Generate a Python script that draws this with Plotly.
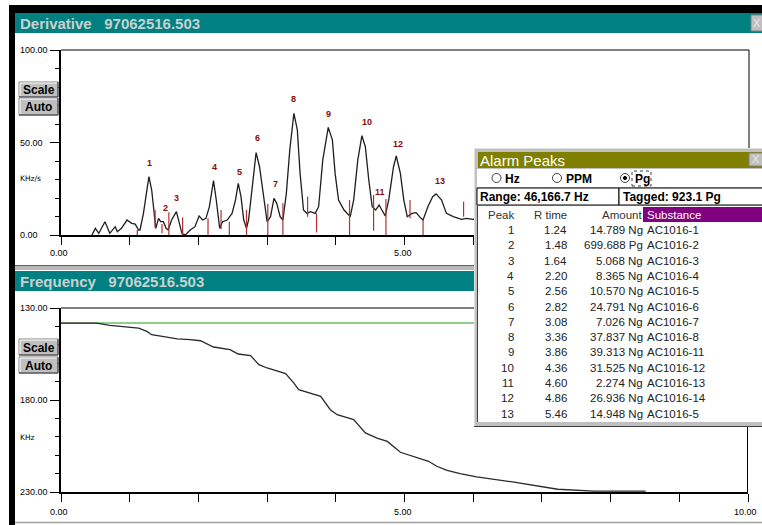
import plotly.graph_objects as go

W, H = 762, 525
FONT = "Liberation Sans, Arial, sans-serif"

# ---------------- data ----------------
deriv_x = [0.45, 0.50, 0.55, 0.64, 0.71, 0.79, 0.82, 0.88, 0.96, 1.03, 1.08, 1.13, 1.15,
           1.20, 1.25, 1.28, 1.32, 1.36, 1.38, 1.42, 1.45, 1.49, 1.53, 1.56, 1.61, 1.68,
           1.72, 1.76, 1.81, 1.88, 1.95, 2.01, 2.06, 2.11, 2.16, 2.22, 2.26, 2.31, 2.35,
           2.42, 2.49, 2.54, 2.58, 2.62, 2.66, 2.70, 2.73, 2.78, 2.84, 2.89, 2.95, 3.00,
           3.05, 3.10, 3.14, 3.19, 3.23, 3.28, 3.33, 3.39, 3.44, 3.48, 3.53, 3.58, 3.63,
           3.70, 3.75, 3.81, 3.89, 3.95, 3.99, 4.04, 4.12, 4.19, 4.21, 4.26, 4.32, 4.38,
           4.43, 4.48, 4.53, 4.58, 4.63, 4.67, 4.72, 4.77, 4.84, 4.88, 4.94, 4.99, 5.04,
           5.11, 5.17, 5.24, 5.27, 5.34, 5.41, 5.46, 5.54, 5.61, 5.71, 5.83, 5.90, 6.00,
           6.15, 6.30]
deriv_y = [0.0, 3.6, 0.9, 7.2, 0.9, 4.5, 1.8, 3.6, 8.1, 6.3, 5.9, 2.7, 2.7,
           11.7, 24.3, 31.5, 24.3, 9.9, 3.6, 9.0, 7.2, 7.2, 3.6, 2.7, 8.1, 12.6,
           7.2, 0.9, 0.0, 2.7, 4.5, 10.3, 8.1, 9.0, 15.3, 29.4, 18.9, 3.6, 7.2,
           8.1, 11.7, 18.9, 27.9, 20.7, 8.1, 3.6, 8.1, 26.1, 44.5, 36.9, 18.9, 7.2,
           9.9, 19.8, 17.1, 9.9, 8.1, 22.5, 45.9, 65.8, 56.8, 33.3, 13.5, 11.7, 12.6,
           11.7, 15.3, 40.5, 58.2, 51.4, 33.3, 18.9, 13.5, 10.8, 9.9, 18.9, 40.5, 53.7,
           47.7, 29.7, 15.3, 13.5, 16.2, 13.5, 10.3, 18.9, 36.9, 42.7, 33.3, 18.9, 9.9,
           11.7, 12.1, 9.0, 8.1, 15.3, 20.7, 22.2, 18.9, 11.7, 9.9, 8.5, 9.0, 8.5,
           8.0, 7.5]

# peak boundary markers (time, top, bottom)
bnd_x = [1.11, 1.37, 1.47, 1.57, 1.77, 2.14, 2.33, 2.45, 2.70, 3.01, 3.23, 3.59, 3.72,
         4.20, 4.55, 4.73, 5.08, 5.27, 5.86]
bnd_top = [2.7, 13.5, 6.0, 12.3, 9.5, 9.0, 13.5, 7.2, 13.5, 16.8, 17.1, 20.7, 11.7,
           18.9, 21.6, 19.5, 18.9, 8.1, 18.0]
bnd_bot = [0.0, 3.6, 0.9, 0.0, 0.0, 0.0, 3.1, 0.0, 0.0, 0.0, 0.0, 9.9, 1.4,
           0.0, 2.3, 0.0, 9.0, 0.0, 9.9]

peak_ids = ["1", "2", "3", "4", "5", "6", "7", "8", "9", "10", "11", "12", "13"]
peak_lab_x = [1.29, 1.52, 1.68, 2.24, 2.60, 2.86, 3.12, 3.39, 3.90, 4.45, 4.64, 4.90, 5.51]
peak_lab_y = [38.7, 14.4, 20.0, 36.6, 34.2, 52.3, 27.4, 73.3, 65.6, 61.1, 23.1, 49.4, 29.4]

freq_x = [0.00, 0.52, 0.71, 0.91, 1.13, 1.25, 1.32, 1.54, 1.69, 1.88, 2.03, 2.22, 2.46,
          2.58, 2.76, 2.88, 3.00, 3.27, 3.39, 3.46, 3.58, 3.78, 3.92, 4.02, 4.26, 4.43,
          4.60, 4.75, 4.94, 5.18, 5.35, 5.47, 5.62, 5.81, 6.05, 6.55, 7.23, 7.76, 8.51]
freq_y = [138.2, 138.2, 139.4, 140.0, 140.9, 142.7, 144.5, 145.8, 146.8, 147.2, 147.8,
          151.2, 152.6, 155.0, 155.9, 160.8, 162.6, 165.7, 170.8, 174.4, 175.8, 178.0,
          185.3, 188.0, 190.7, 197.9, 200.7, 202.5, 208.4, 211.5, 213.3, 216.0, 218.2,
          220.0, 221.8, 224.4, 228.5, 229.5, 229.5]
freq_ref = 138.2

deriv_ytick_vals = [100, 50, 0]
deriv_ytick_text = ["100.00", "50.00", "0.00"]
freq_ytick_vals = [130, 180, 230]
freq_ytick_text = ["130.00", "180.00", "230.00"]
x_tick_vals = [0, 5, 10]
x_tick_text = ["0.00", "5.00", "10.00"]

deriv_title = "Derivative   97062516.503"
freq_title = "Frequency   97062516.503"
deriv_unit = "KHz/s"
freq_unit = "KHz"

table_peak = ["1", "2", "3", "4", "5", "6", "7", "8", "9", "10", "11", "12", "13"]
table_rtime = ["1.24", "1.48", "1.64", "2.20", "2.56", "2.82", "3.08", "3.36", "3.86",
               "4.36", "4.60", "4.86", "5.46"]
table_amount = ["14.789 Ng", "699.688 Pg", "5.068 Ng", "8.365 Ng", "10.570 Ng",
                "24.791 Ng", "7.026 Ng", "37.837 Ng", "39.313 Ng", "31.525 Ng",
                "2.274 Ng", "26.936 Ng", "14.948 Ng"]
table_substance = ["AC1016-1", "AC1016-2", "AC1016-3", "AC1016-4", "AC1016-5",
                   "AC1016-6", "AC1016-7", "AC1016-8", "AC1016-11", "AC1016-12",
                   "AC1016-13", "AC1016-14", "AC1016-5"]
table_headers = ["Peak", "R time", "Amount", "Substance"]
units_options = ["Hz", "PPM", "Pg"]
range_text = "Range: 46,166.7 Hz"
tagged_text = "Tagged: 923.1 Pg"

# ---------------- helpers ----------------
def PX(x):
    return x / W

def PY(y):
    return 1 - y / H

shapes = []
annots = []

def rect(x0, y0, x1, y1, fill, line=None, lw=0, layer="above"):
    shapes.append(dict(type="rect", xref="paper", yref="paper",
                       x0=PX(x0), x1=PX(x1), y0=PY(y1), y1=PY(y0),
                       fillcolor=fill, layer=layer,
                       line=dict(color=line or fill, width=lw)))

def hline(x0, x1, y, color, w=1, dash="solid"):
    shapes.append(dict(type="line", xref="paper", yref="paper", x0=PX(x0), x1=PX(x1),
                       y0=PY(y), y1=PY(y), layer="above",
                       line=dict(color=color, width=w, dash=dash)))

def vline(x, y0, y1, color, w=1, dash="solid"):
    shapes.append(dict(type="line", xref="paper", yref="paper", x0=PX(x), x1=PX(x),
                       y0=PY(y0), y1=PY(y1), layer="above",
                       line=dict(color=color, width=w, dash=dash)))

def circle(cx, cy, r, fill, line):
    shapes.append(dict(type="circle", xref="paper", yref="paper",
                       x0=PX(cx - r), x1=PX(cx + r), y0=PY(cy + r), y1=PY(cy - r),
                       fillcolor=fill, layer="above", line=dict(color=line, width=1)))

def txt(s, x, y, size, color="black", bold=False, xanchor="left", xref="paper",
        yref="paper", family=FONT, xshift=0):
    if xref == "paper":
        x = PX(x)
    if yref == "paper":
        y = PY(y)
    annots.append(dict(text=f"<b>{s}</b>" if bold else s, x=x, y=y, xref=xref, yref=yref,
                       xanchor=xanchor, yanchor="middle", showarrow=False, xshift=xshift,
                       borderpad=0, font=dict(family=family, size=size, color=color)))

def button(x0, y0, x1, y1, label):
    rect(x0, y0, x1, y1, "#c0c0c0", "#808080", 1)
    hline(x0 + 1, x1 - 1, y0 + 1, "white", 1)
    vline(x0 + 1, y0 + 1, y1 - 1, "white", 1)
    hline(x0, x1, y1, "#404040", 1)
    vline(x1, y0, y1, "#404040", 1)
    txt(label, (x0 + x1) / 2, (y0 + y1) / 2 + 0.5, 12, bold=True, xanchor="center")

# ---------------- frame ----------------
rect(9, 5, 762, 13, "black", layer="below")
rect(9, 5, 15, 525, "black", layer="below")

# title bars
rect(15, 13, 762, 33, "#008080")
txt(deriv_title, 19, 23.5, 15, "#c8d0d0", bold=True)
rect(751, 15, 764, 31, "#c0c0c0", "#808080", 1)
txt("X", 757, 23, 11, "#e8e8e8", xanchor="center")

rect(15, 265, 762, 270, "#b8b8b8")
hline(15, 762, 265.5, "#606060", 1)
rect(15, 271, 762, 291, "#008080")
txt(freq_title, 19, 281.5, 15, "#c8d0d0", bold=True)
hline(15, 762, 522.5, "#a0a0a0", 1.5)

# plot borders (top/right)
hline(61, 749, 50, "black", 1)
vline(749, 50, 235, "black", 1)
hline(61, 748, 308, "black", 1)
vline(747.5, 308, 492, "black", 1)

# axis labels (left-aligned like the original)
for v, t in zip(deriv_ytick_vals, deriv_ytick_text):
    txt(t, 19 / W, v, 9, xref="paper_raw", yref="y")
for v, t in zip(freq_ytick_vals, freq_ytick_text):
    txt(t, 19 / W, v, 9, xref="paper_raw", yref="y2")
for a in annots:
    if a["xref"] == "paper_raw":
        a["xref"] = "paper"
txt(deriv_unit, 19, 179, 7.5, family="DejaVu Sans, sans-serif")
txt(freq_unit, 19, 437, 7.5, family="DejaVu Sans, sans-serif")

for v, t in zip(x_tick_vals, x_tick_text):
    if v < 6:  # the rest of the derivative axis is hidden behind the Alarm Peaks window
        txt(t, v, 253, 9, xref="x", xanchor="left", xshift=-12)
    txt(t, v, 512, 9, xref="x2", xanchor="left", xshift=-12 if v < 10 else -15)

# peak labels
for s, x, y in zip(peak_ids, peak_lab_x, peak_lab_y):
    annots.append(dict(text=f"<b>{s}</b>", x=x, y=y, xref="x", yref="y", showarrow=False,
                       font=dict(family=FONT, size=9, color="#8b0a0a")))

button(19, 82, 58, 97, "Scale")
button(19, 98, 58, 115, "Auto")
button(19, 339, 58, 355, "Scale")
button(19, 357, 58, 373, "Auto")

# ---------------- Alarm Peaks window ----------------
rect(474, 148, 770, 427, "#c0c0c0")
hline(474, 770, 148.5, "#e0e0e0", 1)
vline(474.5, 148, 427, "#e0e0e0", 1)
hline(474, 770, 426.5, "#404040", 1)
rect(478, 152, 770, 168, "#808000")
txt("Alarm Peaks", 479, 160.5, 15, "white")
rect(749, 153, 764, 166, "#c0c0c0", "#808080", 1)
txt("X", 756, 159.5, 11, "#e8e8e8", xanchor="center")

rect(477, 169, 770, 187, "white")
radio_cx = [496.5, 557, 625]
radio_tx = [504, 565, 634]
for lab, cx, tx in zip(units_options, radio_cx, radio_tx):
    circle(cx, 178, 4.5, "white", "#404040")
    if lab == "Pg":
        circle(cx, 178, 1.6, "black", "black")
        shapes.append(dict(type="rect", xref="paper", yref="paper", x0=PX(632), x1=PX(651),
                           y0=PY(186), y1=PY(171), layer="above",
                           line=dict(color="#404040", width=1, dash="dot")))
    txt(lab, tx, 178.5, 12, bold=True)

rect(477, 188, 619, 205, "white", "black", 1)
rect(619, 188, 770, 205, "white", "black", 1)
txt(range_text, 479, 197, 12, bold=True)
txt(tagged_text, 622, 197, 12, bold=True)

rect(477, 206, 770, 422, "white")
vline(477.5, 206, 422, "#404040", 1)
rect(643, 207, 770, 222, "#800080")

hdr_x = [515, 568, 643, 646]
hdr_anchor = ["right", "right", "right", "left"]
hdr_col = ["#333333", "#333333", "#333333", "white"]
for h, x, a, c in zip(table_headers, hdr_x, hdr_anchor, hdr_col):
    txt(h, x, 214.5, 11.5, c, xanchor=a)

for i in range(len(table_peak)):
    y = 230 + 15.3 * i
    txt(table_peak[i], 515, y, 11.5, "#222222", xanchor="right")
    txt(table_rtime[i], 568, y, 11.5, "#222222", xanchor="right")
    txt(table_amount[i], 644, y, 11.5, "#222222", xanchor="right")
    txt(table_substance[i], 646, y, 11.5, "#222222", xanchor="left")

# ---------------- traces ----------------
fig = go.Figure()
fig.add_trace(go.Scatter(x=deriv_x, y=deriv_y, mode="lines", xaxis="x", yaxis="y",
                         line=dict(color="#1e1e1e", width=1.3), hoverinfo="skip"))
bx, by = [], []
for x, t, b in zip(bnd_x, bnd_top, bnd_bot):
    bx += [x, x, None]
    by += [b, t, None]
fig.add_trace(go.Scatter(x=bx, y=by, mode="lines", xaxis="x", yaxis="y",
                         line=dict(color="#b03030", width=1.2), hoverinfo="skip"))

fig.add_trace(go.Scatter(x=[0, 10], y=[freq_ref, freq_ref], mode="lines", xaxis="x2",
                         yaxis="y2", line=dict(color="#6cbf6c", width=1.5), hoverinfo="skip"))
fig.add_trace(go.Scatter(x=freq_x, y=freq_y, mode="lines", xaxis="x2", yaxis="y2",
                         line=dict(color="#2a2a2a", width=1.3), hoverinfo="skip"))

xdom = [61 / W, 748 / W]
common_x = dict(domain=xdom, range=[0, 10], showline=True, linecolor="black", linewidth=2,
                ticks="outside", ticklen=8, tickwidth=1, tickcolor="black", dtick=1, tick0=0,
                showticklabels=False, showgrid=False, zeroline=False, fixedrange=True)
common_y = dict(showline=True, linecolor="black", linewidth=2, ticks="outside", ticklen=9,
                tickwidth=1, tickcolor="black", dtick=50, showticklabels=False,
                showgrid=False, zeroline=False, fixedrange=True,
                minor=dict(dtick=10, ticklen=4, ticks="outside", tickcolor="black",
                           tickwidth=1, showgrid=False))

fig.update_layout(
    width=W, height=H, margin=dict(l=0, r=0, t=0, b=0),
    paper_bgcolor="white", plot_bgcolor="rgba(0,0,0,0)", showlegend=False,
    xaxis=dict(anchor="y", **common_x),
    yaxis=dict(anchor="x", domain=[1 - 235 / H, 1 - 50 / H], range=[0, 100], tick0=0,
               **common_y),
    xaxis2=dict(anchor="y2", **common_x),
    yaxis2=dict(anchor="x2", domain=[1 - 492 / H, 1 - 308 / H], range=[230, 130], tick0=130,
                **common_y),
    shapes=shapes, annotations=annots,
)

fig.write_html("out.html")
